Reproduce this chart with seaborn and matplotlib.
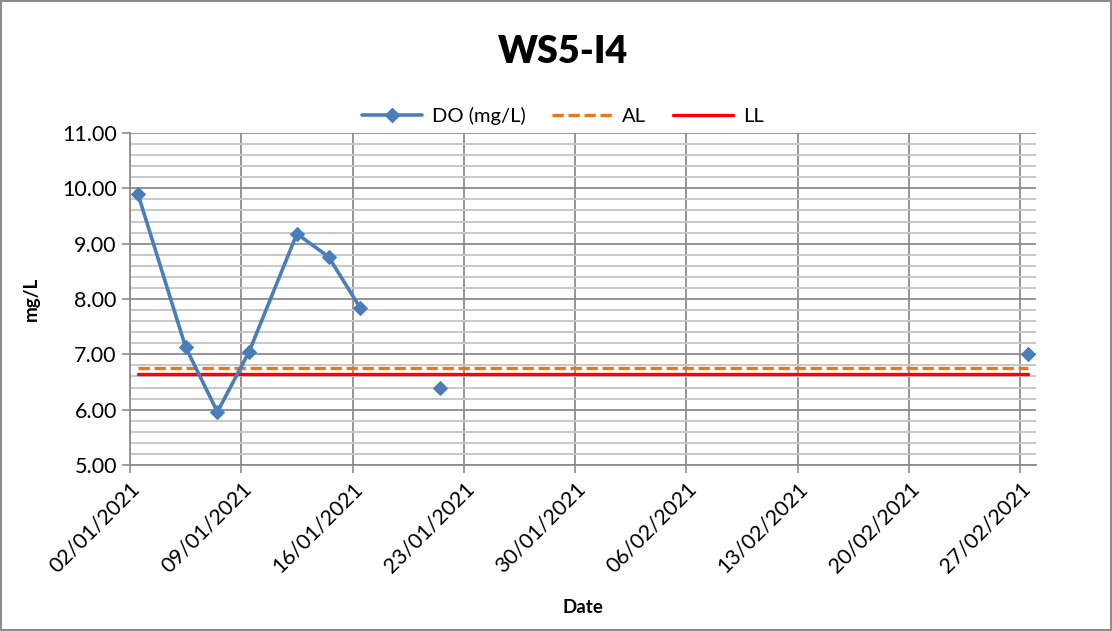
"""WS5-I4 dissolved oxygen chart with action and limit levels."""

import matplotlib

matplotlib.use("Agg")

import matplotlib.dates as mdates
import matplotlib.pyplot as plt
import numpy as np
import pandas as pd
import seaborn as sns
from matplotlib.lines import Line2D
from matplotlib.patches import Rectangle
from matplotlib.ticker import FormatStrFormatter, MultipleLocator

TITLE = "WS5-I4"
DATES = [
    "2021-01-02", "2021-01-05", "2021-01-07", "2021-01-09", "2021-01-12",
    "2021-01-14", "2021-01-16", "2021-01-19", "2021-01-21", "2021-01-24",
    "2021-02-27",
]
DO_VALUES = [9.90, 7.13, 5.96, 7.05, 9.18, 8.76, 7.83, np.nan, 6.40, np.nan, 7.00]
AL_LEVEL = 6.75
LL_LEVEL = 6.64
TICK_DATES = pd.date_range("2021-01-02", "2021-02-27", freq="7D")

DO_COLOR = "#4A7EBB"
AL_COLOR = "#E8771E"
LL_COLOR = "#FF0000"
GRID_MAJOR = "#8C8C8C"
GRID_MINOR = "#C8C8C8"

sns.set_theme(style="white")
plt.rcParams["font.family"] = ["Lato", "DejaVu Sans"]
plt.rcParams["text.color"] = "black"
plt.rcParams["axes.labelcolor"] = "black"
plt.rcParams["xtick.color"] = "black"
plt.rcParams["ytick.color"] = "black"

df = pd.DataFrame({"date": pd.to_datetime(DATES), "do": DO_VALUES})
# Excel date axis puts each point in the middle of its day
df["x"] = df["date"] + pd.Timedelta(hours=12)
df["segment"] = df["do"].isna().cumsum()
df["al"] = AL_LEVEL
df["ll"] = LL_LEVEL
points = df.dropna(subset=["do"])

fig = plt.figure(figsize=(11.12, 6.31), dpi=100)
ax = fig.add_axes([0.1169, 0.2631, 0.9317 - 0.1169, 0.7892 - 0.2631])

ax.yaxis.set_minor_locator(MultipleLocator(0.2))
ax.grid(which="minor", axis="y", color=GRID_MINOR, linewidth=1.4)
ax.grid(which="major", axis="y", color=GRID_MAJOR, linewidth=1.3)
ax.grid(which="major", axis="x", color=GRID_MAJOR, linewidth=1.3)
ax.set_axisbelow(True)

sns.lineplot(data=df, x="x", y="al", ax=ax, color=AL_COLOR, linewidth=2.4,
             linestyle=(0, (3.4, 1.4)), legend=False)
sns.lineplot(data=df, x="x", y="ll", ax=ax, color=LL_COLOR, linewidth=2.4,
             legend=False)
sns.lineplot(data=points, x="x", y="do", units="segment", estimator=None, ax=ax,
             color=DO_COLOR, linewidth=2.6, marker="D", markersize=7,
             markeredgecolor=DO_COLOR, legend=False)

ax.set_xlim(pd.Timestamp("2021-01-02"), pd.Timestamp("2021-02-28"))
ax.set_ylim(5, 11)
ax.set_yticks(np.arange(5, 11.01, 1))
ax.yaxis.set_major_formatter(FormatStrFormatter("%.2f"))
ax.set_xticks(TICK_DATES)
ax.xaxis.set_major_formatter(mdates.DateFormatter("%d/%m/%Y"))
plt.setp(ax.get_xticklabels(), rotation=45, ha="right", rotation_mode="anchor")
ax.tick_params(axis="both", which="major", labelsize=15.5, length=6, width=1.2,
               color=GRID_MAJOR, labelcolor="black", direction="out",
               bottom=True, left=True)
ax.tick_params(axis="y", which="minor", length=0)

for side in ("top", "right"):
    ax.spines[side].set_visible(False)
for side in ("left", "bottom"):
    ax.spines[side].set_color(GRID_MAJOR)
    ax.spines[side].set_linewidth(1.3)

ax.set_xlabel("Date", fontsize=13.5, fontweight="bold")
ax.set_ylabel("mg/L", fontsize=13.5, fontweight="bold")
ax.xaxis.set_label_coords(0.5, -0.405)
ax.yaxis.set_label_coords(-0.1, 0.5)

fig.text(0.506, 0.917, TITLE, ha="center", va="center", fontsize=27,
         fontweight="heavy", color="black")

handles = [
    Line2D([], [], color=DO_COLOR, linewidth=2.6, marker="D", markersize=7),
    Line2D([], [], color=AL_COLOR, linewidth=2.4, linestyle=(0, (3.4, 1.4))),
    Line2D([], [], color=LL_COLOR, linewidth=2.4),
]
fig.legend(handles, ["DO (mg/L)", "AL", "LL"], loc="center",
           bbox_to_anchor=(0.506, 0.816), ncol=3, frameon=False, fontsize=14.5,
           handlelength=3.0, columnspacing=1.3, handletextpad=0.5)

fig.patches.append(Rectangle((0.001, 0.001), 0.998, 0.997, transform=fig.transFigure,
                             fill=False, edgecolor=GRID_MAJOR, linewidth=1.5))

fig.savefig("out.png", dpi=100)
